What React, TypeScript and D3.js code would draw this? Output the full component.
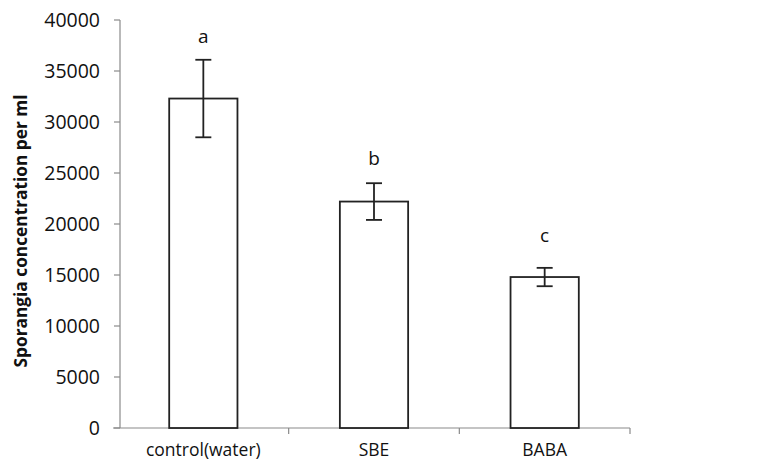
import React from 'react';
import * as d3 from 'd3';

const categories = ['control(water)', 'SBE', 'BABA'];
const means = [32300, 22200, 14800];
const errors = [3800, 1800, 900];
const letters = ['a', 'b', 'c'];
const letterValues = [38400, 26500, 18900];
const yTicks = [0, 5000, 10000, 15000, 20000, 25000, 30000, 35000, 40000];

const width = 760;
const height = 466;
const margin = { left: 120, top: 20, right: 130, bottom: 38 };
const font = '"Open Sans", sans-serif';

const App = () => {
  const x = d3
    .scaleBand()
    .domain(categories)
    .range([margin.left - 2, width - margin.right])
    .paddingInner(0.6)
    .paddingOuter(0.3);
  // band boundaries for the category ticks
  const step = x.step();
  const x0 = margin.left - 2;
  const y = d3
    .scaleLinear()
    .domain([0, 40000])
    .range([height - margin.bottom, margin.top]);
  const axisColor = '#8a8a8a';
  const capW = 8;

  return (
    <svg width={width} height={height} style={{ position: 'absolute', left: 0, top: 0 }}>
      <rect width={width} height={height} fill="#fff" />
      {/* y axis */}
      <line x1={margin.left} x2={margin.left} y1={y(40000)} y2={y(0)} stroke={axisColor} strokeWidth={1.2} />
      {yTicks.map(t => (
        <g key={t}>
          <line x1={margin.left - 6} x2={margin.left} y1={y(t)} y2={y(t)} stroke={axisColor} strokeWidth={1.2} />
          <text x={margin.left - 20} y={y(t)} dy="0.36em" textAnchor="end" fontFamily={font} fontSize={19.5} fill="#111">
            {t}
          </text>
        </g>
      ))}
      {/* x axis */}
      <line x1={margin.left - 7} x2={width - margin.right} y1={y(0)} y2={y(0)} stroke={axisColor} strokeWidth={1.2} />
      {d3.range(1, categories.length + 1).map(i => (
        <line key={i} x1={x0 + step * i} x2={x0 + step * i} y1={y(0)} y2={y(0) + 6} stroke={axisColor} strokeWidth={1.2} />
      ))}
      {categories.map((c, i) => {
        const bx = x(c)!;
        const cx = bx + x.bandwidth() / 2;
        return (
          <g key={c}>
            <rect x={bx} y={y(means[i])} width={x.bandwidth()} height={y(0) - y(means[i])} fill="#fff" stroke="#222" strokeWidth={1.8} />
            <line x1={cx} x2={cx} y1={y(means[i] + errors[i])} y2={y(means[i] - errors[i])} stroke="#222" strokeWidth={1.8} />
            <line x1={cx - capW} x2={cx + capW} y1={y(means[i] + errors[i])} y2={y(means[i] + errors[i])} stroke="#222" strokeWidth={1.8} />
            <line x1={cx - capW} x2={cx + capW} y1={y(means[i] - errors[i])} y2={y(means[i] - errors[i])} stroke="#222" strokeWidth={1.8} />
            <text x={cx} y={y(letterValues[i])} dy="0.36em" textAnchor="middle" fontFamily={font} fontSize={19} fill="#111">
              {letters[i]}
            </text>
            <text x={cx} y={y(0) + 22} dy="0.36em" textAnchor="middle" fontFamily={font} fontSize={17.5} fill="#111">
              {c}
            </text>
          </g>
        );
      })}
      <text
        transform={`translate(21,231) rotate(-90)`}
        textAnchor="middle"
        dy="0.36em"
        fontFamily={font}
        fontWeight="bold"
        fontSize={17.3}
        fill="#111"
      >
        Sporangia concentration per ml
      </text>
    </svg>
  );
};

export default App;
